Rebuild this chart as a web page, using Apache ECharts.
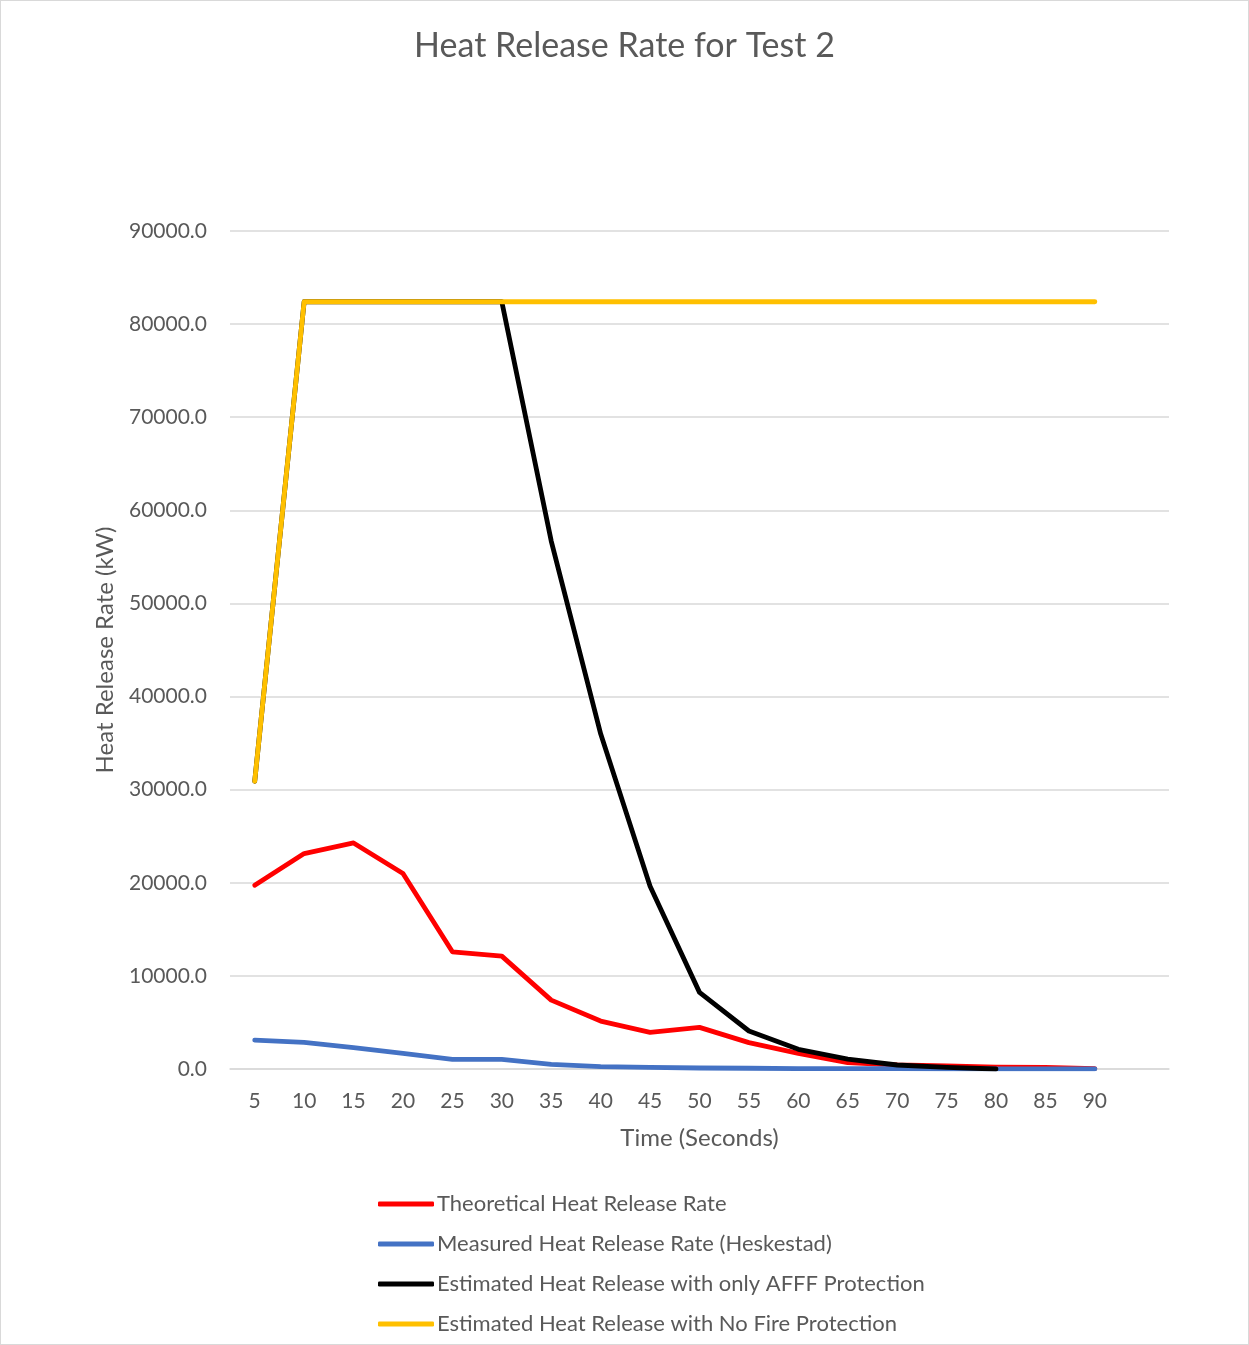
<!DOCTYPE html>
<html>
<head>
<meta charset="utf-8">
<script src="https://cdn.jsdelivr.net/npm/echarts@6/dist/echarts.min.js"></script>
<style>
html,body{margin:0;padding:0;background:#fff;}
#chart{width:1247px;height:1343px;border:1px solid #d9d9d9;}
</style>
</head>
<body>
<div id="chart"></div>
<script>
const categories = ['5','10','15','20','25','30','35','40','45','50','55','60','65','70','75','80','85','90',''];
const theoretical = [19740,23140,24280,20990,12590,12120,7400,5150,3930,4470,2830,1680,680,430,320,200,160,50];
const measured = [3110,2860,2290,1680,1040,1040,500,250,180,110,80,50,40,30,20,15,10,5];
const afffOnly = [30900,82400,82400,82400,82400,82400,56700,36000,19630,8230,4080,2110,1070,430,180,0];
const noProtection = [30900,82400,82400,82400,82400,82400,82400,82400,82400,82400,82400,82400,82400,82400,82400,82400,82400,82400];
const seriesNames = ['Theoretical Heat Release Rate','Measured Heat Release Rate (Heskestad)','Estimated Heat Release with only AFFF Protection','Estimated Heat Release with No Fire Protection'];

const FONT = 'Lato';
const TXT = '#595959';
const chart = echarts.init(document.getElementById('chart'));
function ser(name, data, color) {
  return {name, type:'line', data, symbol:'none', smooth:false,
    lineStyle:{color, width:4.8, cap:'round', join:'round'}, itemStyle:{color}};
}
chart.setOption({
  animation:false,
  textStyle:{fontFamily:FONT},
  title:{text:'Heat Release Rate for Test 2', left:'center', top:23,
    textStyle:{fontFamily:FONT, fontSize:34, fontWeight:'normal', color:TXT}},
  grid:{left:229, right:79, top:230, bottom:275, containLabel:false},
  xAxis:{type:'category', data:categories, boundaryGap:true,
    name:'Time (Seconds)', nameLocation:'middle', nameGap:57,
    nameTextStyle:{fontFamily:FONT, fontSize:24, color:TXT},
    axisLine:{show:true, lineStyle:{color:'#d9d9d9', width:1.5}},
    axisTick:{show:false},
    axisLabel:{fontFamily:FONT, fontSize:21, color:TXT, margin:22, interval:0}},
  yAxis:{type:'value', min:0, max:90000, interval:10000,
    name:'Heat Release Rate (kW)', nameLocation:'middle', nameGap:113,
    nameTextStyle:{fontFamily:FONT, fontSize:24, color:TXT},
    axisLine:{show:false}, axisTick:{show:false},
    splitLine:{lineStyle:{color:'#d9d9d9', width:1.5}},
    axisLabel:{fontFamily:FONT, fontSize:21, color:TXT, margin:23, formatter:v=>v.toFixed(1)}},
  legend:{orient:'vertical', left:377, top:1192, bottom:0, itemWidth:56, itemHeight:5, itemGap:18,
    padding:0, icon:'roundRect',
    textStyle:{fontFamily:FONT, fontSize:22, color:TXT, padding:[0,0,0,-2], lineHeight:20},
    data:seriesNames},
  series:[
    ser(seriesNames[0], theoretical, '#FF0000'),
    ser(seriesNames[1], measured, '#4472C4'),
    ser(seriesNames[2], afffOnly, '#000000'),
    ser(seriesNames[3], noProtection, '#FFC000')
  ]
});
</script>
</body>
</html>
